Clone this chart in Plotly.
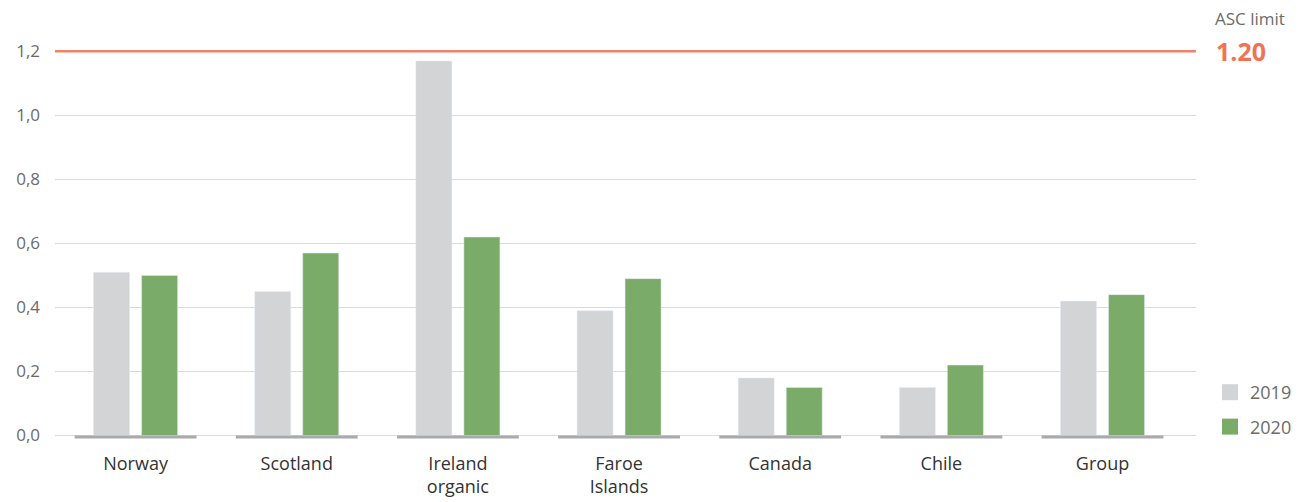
import plotly.graph_objects as go

# Categories and values
sites = ["Norway", "Scotland", "Ireland<br>organic", "Faroe<br>Islands", "Canada", "Chile", "Group"]
values_2019 = [0.51, 0.45, 1.17, 0.39, 0.18, 0.15, 0.42]
values_2020 = [0.50, 0.57, 0.62, 0.49, 0.15, 0.22, 0.44]
asc_limit = 1.20
y_ticks = [0.0, 0.2, 0.4, 0.6, 0.8, 1.0, 1.2]
y_tick_labels = ["0,0", "0,2", "0,4", "0,6", "0,8", "1,0", "1,2"]

GREY_BAR = "#d3d4d6"
GREEN_BAR = "#7aab69"
LIMIT_RED = "#f0826b"
LIMIT_TEXT = "#f07352"
TEXT_GREY = "#6b6b6b"
FONT = "Open Sans, Lato, sans-serif"

idx = list(range(len(sites)))

fig = go.Figure()
fig.add_trace(go.Bar(x=idx, y=values_2019, name="2019", marker_color=GREY_BAR,
                     showlegend=False, hoverinfo="y"))
fig.add_trace(go.Bar(x=idx, y=values_2020, name="2020", marker_color=GREEN_BAR,
                     showlegend=False, hoverinfo="y"))

# Legend entries with larger square swatches
for name, col in [("2019", GREY_BAR), ("2020", GREEN_BAR)]:
    fig.add_trace(go.Scatter(x=[None], y=[None], mode="markers", name=name,
                             legendgroup=name,
                             marker=dict(symbol="square", size=17, color=col)))

# Darker baseline segment under each category group
for i in idx:
    fig.add_shape(type="line", xref="x", yref="y", x0=i - 0.378, x1=i + 0.378,
                  y0=-0.005, y1=-0.005, line=dict(color="#a9aaae", width=3),
                  layer="above")

# ASC limit line
fig.add_shape(type="line", xref="paper", yref="y", x0=0, x1=1,
              y0=asc_limit, y1=asc_limit, line=dict(color=LIMIT_RED, width=2.5),
              layer="above")

fig.add_annotation(xref="paper", yref="y", x=1.0, y=asc_limit, xanchor="left",
                   yanchor="middle", xshift=17, yshift=33, text="ASC limit",
                   showarrow=False, font=dict(family=FONT, size=17, color=TEXT_GREY))
fig.add_annotation(xref="paper", yref="y", x=1.0, y=asc_limit, xanchor="left",
                   yanchor="middle", xshift=18, yshift=0,
                   text=f"<b>{asc_limit:.2f}</b>", showarrow=False,
                   font=dict(family=FONT, size=25, color=LIMIT_TEXT))

fig.update_layout(
    width=1312, height=502,
    margin=dict(l=55, r=116, t=45, b=62, autoexpand=False),
    paper_bgcolor="white", plot_bgcolor="white",
    barmode="group", bargap=0.404, bargroupgap=0.25,
    font=dict(family=FONT, color=TEXT_GREY),
    legend=dict(xref="container", yref="container", x=1210 / 1312, y=1 - 374 / 502,
                xanchor="left", yanchor="top", tracegroupgap=8,
                font=dict(family=FONT, size=18, color=TEXT_GREY),
                bgcolor="rgba(0,0,0,0)"),
    xaxis=dict(range=[-0.5, 6.58], tickmode="array", tickvals=idx, ticktext=sites,
               showgrid=False, zeroline=False, showline=False, ticks="",
               ticklabelstandoff=11, automargin=False,
               tickfont=dict(family=FONT, size=18, color="#333333"),
               fixedrange=True),
    yaxis=dict(range=[-0.014, 1.2197], tickmode="array", tickvals=y_ticks,
               ticktext=y_tick_labels, showgrid=True, gridcolor="#dadada",
               gridwidth=1, zeroline=False, showline=False, ticks="",
               ticklabelstandoff=14, automargin=False,
               tickfont=dict(family=FONT, size=17, color=TEXT_GREY),
               fixedrange=True),
)

fig.write_html("out.html")
